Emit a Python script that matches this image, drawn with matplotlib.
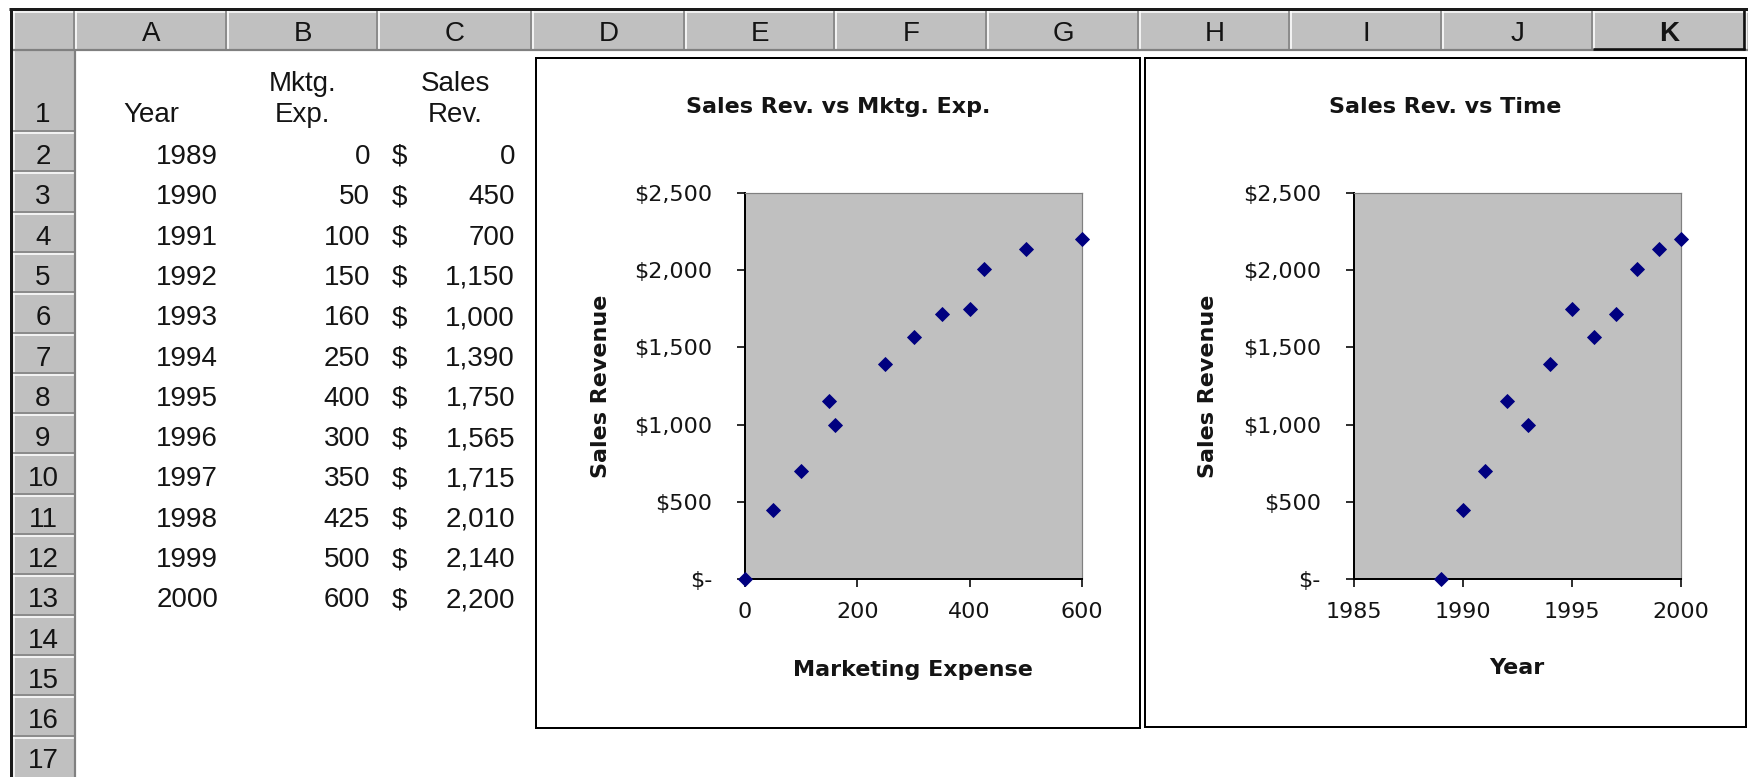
import matplotlib
matplotlib.use("Agg")
import matplotlib.pyplot as plt
from matplotlib.patches import Rectangle
from matplotlib.ticker import FuncFormatter

# ---- worksheet data -------------------------------------------------------
years = [1989, 1990, 1991, 1992, 1993, 1994, 1995, 1996, 1997, 1998, 1999, 2000]
mktg_exp = [0, 50, 100, 150, 160, 250, 400, 300, 350, 425, 500, 600]
sales_rev = [0, 450, 700, 1150, 1000, 1390, 1750, 1565, 1715, 2010, 2140, 2200]

column_letters = ["A", "B", "C", "D", "E", "F", "G", "H", "I", "J", "K"]
row_numbers = list(range(1, 18))
header_cells = [["Year"], ["Mktg.", "Exp."], ["Sales", "Rev."]]

revenue_ticks = [0, 500, 1000, 1500, 2000, 2500]
expense_ticks = [0, 200, 400, 600]
year_ticks = [1985, 1990, 1995, 2000]

chart1_title = "Sales Rev. vs Mktg. Exp."
chart1_xlabel = "Marketing Expense"
chart2_title = "Sales Rev. vs Time"
chart2_xlabel = "Year"
revenue_label = "Sales Revenue"

# ---- canvas (pixel units) -------------------------------------------------
W, H = 1748, 777
DPI = 100
PT = 72.0 / DPI          # points per pixel

GRAY = "#c0c0c0"
SHADOW = "#808080"
NAVY = "#000080"
INK = "#141414"

fig = plt.figure(figsize=(W / DPI, H / DPI), dpi=DPI, facecolor="white")
sheet = fig.add_axes([0, 0, 1, 1])
sheet.set_xlim(0, W)
sheet.set_ylim(H, 0)
sheet.axis("off")


def hline(y, x0, x1, color, px):
    sheet.plot([x0, x1], [y, y], color=color, lw=px * PT, solid_capstyle="butt", zorder=3)


def vline(x, y0, y1, color, px):
    sheet.plot([x, x], [y0, y1], color=color, lw=px * PT, solid_capstyle="butt", zorder=3)


def px_box(x0, y0, x1, y1):
    return [x0 / W, 1 - y1 / H, (x1 - x0) / W, (y1 - y0) / H]


# grid geometry
col_edges = [75, 227, 378, 532, 685, 835, 987, 1139, 1290, 1442, 1593, 1745]
HDR_TOP, HDR_BOT = 10, 50
ROW1_BOT = 132
ROW_H = 40.3
row_edges = [HDR_BOT, ROW1_BOT] + [ROW1_BOT + ROW_H * k for k in range(1, 16)]
LINE_GAP = 31            # spacing of wrapped lines inside row 1


def row_baseline(n):
    if n == 1:
        return 122
    return ROW1_BOT + ROW_H * (n - 2) + 32


# ---- headers --------------------------------------------------------------
sheet.add_patch(Rectangle((10, HDR_TOP), W - 10, HDR_BOT - HDR_TOP, facecolor=GRAY,
                          edgecolor="none", zorder=1))
sheet.add_patch(Rectangle((10, HDR_TOP), col_edges[0] - 10, H - HDR_TOP, facecolor=GRAY,
                          edgecolor="none", zorder=1))

hline(HDR_TOP + 1.5, 12, W, "white", 1.5)
vline(13.5, HDR_TOP, H, "white", 1.5)
for e in col_edges:
    vline(e - 1, HDR_TOP, HDR_BOT, SHADOW, 1.6)
    vline(e + 1, HDR_TOP + 1, HDR_BOT - 1, "white", 1.6)
for r in row_edges[1:]:
    hline(r - 1, 12, col_edges[0], SHADOW, 1.6)
    hline(r + 1, 12, col_edges[0] - 1, "white", 1.6)
hline(HDR_BOT, 10, W, SHADOW, 2.2)
vline(col_edges[0], HDR_BOT, H, SHADOW, 2.2)

# selected column header
hline(HDR_BOT - 1, col_edges[10], col_edges[11], "#101010", 2.6)
vline(col_edges[11] - 1, HDR_TOP, HDR_BOT, "#101010", 2.6)

# outer frame of the sheet window
hline(9, 9, W, "#1a1a1a", 3)
vline(11, 8, H, "#1a1a1a", 3)

cell_font = dict(family="Liberation Sans", size=20, color=INK, zorder=4)

for i, letter in enumerate(column_letters):
    cx = (col_edges[i] + col_edges[i + 1]) / 2
    weight = "bold" if letter == "K" else "normal"
    sheet.text(cx, 41, letter, ha="center", va="baseline", fontweight=weight, **cell_font)

for n in row_numbers:
    sheet.text(43, row_baseline(n), str(n), ha="center", va="baseline", **cell_font)

# ---- cell contents --------------------------------------------------------
for c, lines in enumerate(header_cells):
    cx = (col_edges[c] + col_edges[c + 1]) / 2
    for j, txt in enumerate(reversed(lines)):
        sheet.text(cx, row_baseline(1) - LINE_GAP * j, txt, ha="center", va="baseline",
                   **cell_font)

for i, (yr, m, s) in enumerate(zip(years, mktg_exp, sales_rev)):
    base = row_baseline(i + 2)
    sheet.text(218, base, str(yr), ha="right", va="baseline", **cell_font)
    sheet.text(370, base, f"{m:,}", ha="right", va="baseline", **cell_font)
    sheet.text(392, base, "$", ha="left", va="baseline", **cell_font)
    sheet.text(515, base, f"{s:,}", ha="right", va="baseline", **cell_font)

# ---- embedded charts ------------------------------------------------------
sheet.add_patch(Rectangle((536, 58), 1140 - 536, 728 - 58, facecolor="white",
                          edgecolor="black", lw=2 * PT, zorder=2))
sheet.add_patch(Rectangle((1145, 58), 1746 - 1145, 727 - 58, facecolor="white",
                          edgecolor="black", lw=2 * PT, zorder=2))


def money(v, _pos=None):
    return "$-" if v == 0 else f"${v:,.0f}"


def scatter_chart(box, xs, ys, xlim, xticks):
    ax = fig.add_axes(px_box(*box))
    ax.set_facecolor(GRAY)
    ax.plot(xs, ys, linestyle="none", marker="D", ms=7.4, mfc=NAVY, mec=NAVY,
            mew=0.6, clip_on=False, zorder=5)
    ax.set_xlim(*xlim)
    ax.set_ylim(revenue_ticks[0], revenue_ticks[-1])
    ax.set_xticks(xticks)
    ax.set_yticks(revenue_ticks)
    ax.yaxis.set_major_formatter(FuncFormatter(money))
    for side in ("left", "bottom"):
        ax.spines[side].set_color("black")
        ax.spines[side].set_linewidth(2 * PT)
    for side in ("top", "right"):
        ax.spines[side].set_color(SHADOW)
        ax.spines[side].set_linewidth(1.2 * PT)
    ax.tick_params(direction="out", length=8 * PT, width=1.6 * PT, color="black",
                   labelsize=16, labelcolor=INK)
    ax.tick_params(axis="y", pad=25 * PT)
    ax.tick_params(axis="x", pad=15 * PT)
    return ax


ax1 = scatter_chart((745, 193, 1082, 579), mktg_exp, sales_rev, (0, 600), expense_ticks)
ax2 = scatter_chart((1354, 193, 1681, 579), years, sales_rev, (1985, 2000), year_ticks)

bold = dict(family="DejaVu Sans", fontweight="bold", size=16, color=INK, zorder=4)
sheet.text(838, 113, chart1_title, ha="center", va="baseline", **bold)
sheet.text(1445, 113, chart2_title, ha="center", va="baseline", **bold)
sheet.text(913, 676, chart1_xlabel, ha="center", va="baseline", **bold)
sheet.text(1517, 674, chart2_xlabel, ha="center", va="baseline", **bold)
sheet.text(607, 386, revenue_label, ha="center", va="baseline", rotation=90,
           rotation_mode="anchor", **bold)
sheet.text(1214, 386, revenue_label, ha="center", va="baseline", rotation=90,
           rotation_mode="anchor", **bold)

fig.savefig("out.png", dpi=DPI, facecolor="white")
